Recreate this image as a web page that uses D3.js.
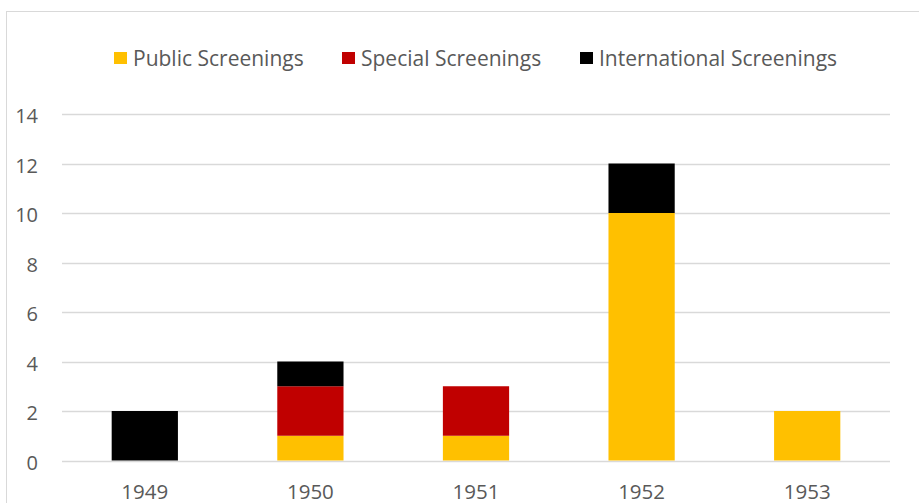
<!DOCTYPE html>
<html>
<head>
<meta charset="utf-8">
<script src="https://cdn.jsdelivr.net/npm/d3@7"></script>
<style>
  html, body { margin: 0; padding: 0; background: #fff; }
  svg { display: block; font-family: "Open Sans", sans-serif; }
</style>
</head>
<body>
<div id="chart"></div>
<script>
// Stacked columns: screenings per year, three kinds.
const years = ["1949", "1950", "1951", "1952", "1953"];
const publicScreenings = [0, 1, 1, 10, 2];
const specialScreenings = [0, 2, 2, 0, 0];
const internationalScreenings = [2, 1, 0, 2, 0];
const yTicks = [0, 2, 4, 6, 8, 10, 12, 14];

const series = [
  { name: "Public Screenings", values: publicScreenings, color: "#FFC000" },
  { name: "Special Screenings", values: specialScreenings, color: "#C00000" },
  { name: "International Screenings", values: internationalScreenings, color: "#000000" },
];

const W = 919, H = 503;
const m = { l: 62, r: 29, t: 114, b: 42.5 };
const svg = d3.select("#chart").append("svg").attr("width", W).attr("height", H);

// chart frame (runs off the right and bottom edges in the original)
svg.append("rect").attr("x", 6.5).attr("y", 11.5).attr("width", 1000).attr("height", 1000)
  .attr("fill", "none").attr("stroke", "#D9D9D9");

const x = d3.scaleBand().domain(years).range([m.l, W - m.r]).paddingInner(0.6).paddingOuter(0.3);
const y = d3.scaleLinear().domain([0, 14]).range([H - m.b, m.t]);

// gridlines
svg.append("g").selectAll("line").data(yTicks).join("line")
  .attr("x1", m.l).attr("x2", W - m.r)
  .attr("y1", (d) => Math.round(y(d)) + 0.5).attr("y2", (d) => Math.round(y(d)) + 0.5)
  .attr("stroke", "#D9D9D9").attr("stroke-width", 1.3);

// y tick labels
svg.append("g").selectAll("text").data(yTicks).join("text")
  .attr("x", 38).attr("y", (d) => y(d) + 2).attr("dy", "0.36em").attr("text-anchor", "end")
  .attr("fill", "#595959").style("font-size", "20px").text((d) => d);

// x labels
svg.append("g").selectAll("text").data(years).join("text")
  .attr("x", (d) => x(d) + x.bandwidth() / 2).attr("y", 498.5).attr("text-anchor", "middle")
  .attr("fill", "#595959").style("font-size", "20.5px").text((d) => d);

// stacked bars
const rows = years.map((yr, i) => {
  const r = { year: yr };
  series.forEach((s) => { r[s.name] = s.values[i]; });
  return r;
});
const stack = d3.stack().keys(series.map((s) => s.name))(rows);
stack.forEach((layer, k) => {
  svg.append("g").attr("fill", series[k].color).selectAll("rect")
    .data(layer.filter((d) => d[1] > d[0])).join("rect")
    .attr("x", (d) => x(d.data.year)).attr("width", x.bandwidth())
    .attr("y", (d) => y(d[1])).attr("height", (d) => y(d[0]) - y(d[1]));
});

// legend
const legendX = [114, 342, 580];
const lg = svg.append("g").selectAll("g").data(series).join("g")
  .attr("transform", (d, i) => `translate(${legendX[i]},52)`);
lg.append("rect").attr("width", 13).attr("height", 12).attr("fill", (d) => d.color);
lg.append("text").attr("x", 19).attr("y", 6.5).attr("dy", "0.36em")
  .attr("fill", "#595959").style("font-size", "21px").text((d) => d.name);
</script>
</body>
</html>
